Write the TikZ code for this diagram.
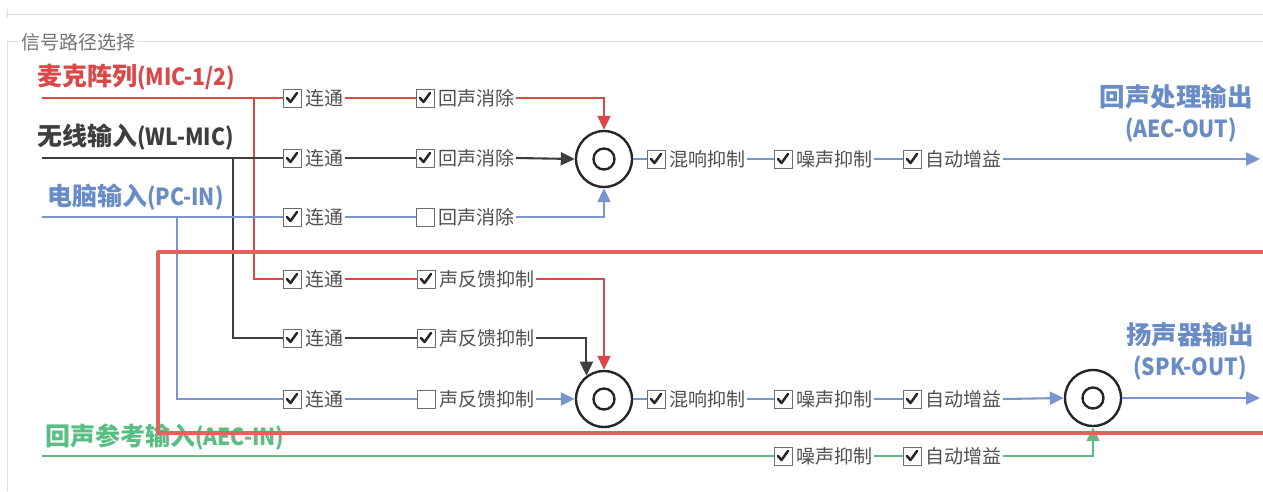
\documentclass[tikz,border=0pt]{standalone}
\usepackage{fontspec}
\newfontfamily\cjk{Noto Sans CJK SC}
\newfontfamily\cjkn{Noto Sans CJK SC}[FakeStretch=0.9]
\usetikzlibrary{arrows.meta,calc}
\definecolor{cred}{RGB}{218,72,72}
\definecolor{rectred}{RGB}{226,98,92}
\definecolor{cdark}{RGB}{62,62,62}
\definecolor{cblue}{RGB}{120,150,205}
\definecolor{tblue}{RGB}{105,140,198}
\definecolor{cgreen}{RGB}{88,190,130}
\definecolor{labgray}{RGB}{80,80,80}
\definecolor{framegray}{RGB}{222,222,222}
\newcommand\ckbox[5]{%
  \node[cbox] (#1) at (#2,#3) {};
  \node[lab] (#1t) at ([xshift=2]#1.east) {#4};
  \ifnum#5=1 \draw[tickmark] ([shift={(-5,0)}]#1.center) -- ([shift={(-1.5,4)}]#1.center) -- ([shift={(5,-5)}]#1.center);\fi}
\newcommand\latn[1]{{\cjkn\fontsize{23.5}{23.5}\selectfont #1}}
\begin{document}
\begin{tikzpicture}[x=1pt,y=-1pt,
  cbox/.style={draw=gray!85!black,line width=0.9pt,minimum size=18pt,inner sep=0pt,fill=white},
  lab/.style={font=\cjk\fontsize{19}{19}\selectfont,text=labgray,anchor=west,inner sep=1.5pt},
  tickmark/.style={line width=2.5pt,draw=black!85,line cap=round,line join=round},
  sig/.style={line width=2.1pt},
  arr/.style={sig,-{Triangle[length=14pt,width=13pt]}},
  mixer/.style={circle,draw=black!85,line width=2.4pt,minimum size=56pt,inner sep=0pt,fill=white},
  mixin/.style={circle,draw=black!85,line width=2.4pt,minimum size=21pt,inner sep=0pt},
  title/.style={font=\cjk\bfseries\fontsize{25}{25}\selectfont,anchor=west,inner sep=0pt},
  otitle/.style={font=\cjk\bfseries\fontsize{25.5}{25.5}\selectfont,text=tblue,inner sep=0pt},
  frame/.style={draw=framegray,line width=1pt}]
\useasboundingbox (0,0) rectangle (1263,491);
% frame
\coordinate (ft0) at (5,14); \coordinate (ft1) at (1263,14);
\draw[frame] (ft0) -- (ft1);
\coordinate (tk0) at (7,9); \coordinate (tk1) at (7,18);
\draw[frame] (tk0) -- (tk1);
\node[font=\cjk\fontsize{19}{19}\selectfont,text=black!55,anchor=west,inner sep=2pt] (gtitle) at (19,42) {信号路径选择};
\coordinate (fb) at (7,491); \coordinate (fr) at (1263,41);
\draw[frame] (gtitle.west|-fr) -| (fb);
\draw[frame] (gtitle.east|-fr) -- (fr);
% titles
\node[title,text=cred] (mic) at (37,77) {麦克阵列\latn{(MIC-1/2)}};
\node[title,text=cdark] (wl) at (37,137) {无线输入\latn{(WL-MIC)}};
\node[title,text=tblue] (pc) at (47,197) {电脑输入\latn{(PC-IN)}};
\node[title,text=cgreen] (aecin) at (45,437) {回声参考输入\latn{(AEC-IN)}};
\node[otitle] (aecout1) at (1176,97) {回声处理输出};
\node[otitle] (aecout2) at (1181,130) {\latn{(AEC-OUT)}};
\node[otitle] (spk1) at (1190,335) {扬声器输出};
\node[otitle] (spk2) at (1190,368) {\latn{(SPK-OUT)}};
% mixers
\node[mixer] (k1) at (604,159) {};
\node[mixin] (k1i) at (k1) {};
\node[mixer] (k2) at (604,399) {};
\node[mixin] (k2i) at (k2) {};
\node[mixer] (k3) at (1093,398) {};
\node[mixin] (k3i) at (k3) {};
% checkboxes
\ckbox{a1}{292}{98}{连通\hspace{5pt}}{1}
\ckbox{a2}{292}{158}{连通\hspace{5pt}}{1}
\ckbox{a3}{292}{217}{连通\hspace{5pt}}{1}
\ckbox{a4}{292}{279}{连通\hspace{5pt}}{1}
\ckbox{a5}{292}{338}{连通\hspace{5pt}}{1}
\ckbox{a6}{292}{399}{连通\hspace{5pt}}{1}
\ckbox{b1}{425}{98}{回声消除}{1}
\ckbox{b2}{425}{158}{回声消除}{1}
\ckbox{b3}{425}{217}{回声消除}{0}
\ckbox{b4}{426}{279}{声反馈抑制}{1}
\ckbox{b5}{426}{338}{声反馈抑制}{1}
\ckbox{b6}{426}{399}{声反馈抑制}{0}
\ckbox{c1}{656}{159}{混响抑制}{1}
\ckbox{d1}{783}{159}{噪声抑制}{1}
\ckbox{e1}{912}{159}{自动增益}{1}
\ckbox{c2}{656}{399}{混响抑制}{1}
\ckbox{d2}{783}{399}{噪声抑制}{1}
\ckbox{e2}{912}{399}{自动增益}{1}
\ckbox{d3}{783}{456}{噪声抑制}{1}
\ckbox{e3}{912}{456}{自动增益}{1}
% input coordinates
\coordinate (micin) at (42,98);
\coordinate (wlin) at (42,158);
\coordinate (pcin) at (42,217);
\coordinate (gin) at (42,456);
\coordinate (micb) at (254,98);
\coordinate (wlb) at (233,158);
\coordinate (pcb) at (177,217);
\coordinate (outA) at (1260,159);
\coordinate (outS) at (1260,398);
% red path
\begin{scope}[draw=cred]
\draw[sig] (micin) -- (a1.west);
\draw[sig] (micb) |- (a4.west);
\draw[sig] (a1t.east) -- (b1.west);
\draw[arr] (b1t.east) -| (k1.north);
\draw[sig] (a4t.east) -- (b4.west);
\draw[arr] (b4t.east) -| (k2.north);
\end{scope}
% dark path
\begin{scope}[draw=cdark]
\draw[sig] (wlin) -- (a2.west);
\draw[sig] (wlb) |- (a5.west);
\draw[sig] (a2t.east) -- (b2.west);
\draw[arr] (b2t.east) -- (k1.west);
\draw[sig] (a5t.east) -- (b5.west);
\draw[arr] (b5t.east) -| (k2.127);
\end{scope}
% blue path
\begin{scope}[draw=cblue]
\draw[sig] (pcin) -- (a3.west);
\draw[sig] (pcb) |- (a6.west);
\draw[sig] (a3t.east) -- (b3.west);
\draw[arr] (b3t.east) -| (k1.south);
\draw[sig] (a6t.east) -- (b6.west);
\draw[arr] (b6t.east) -- (k2.west);
\draw[sig] (k1.east) -- (c1.west);
\draw[sig] (c1t.east) -- (d1.west);
\draw[sig] (d1t.east) -- (e1.west);
\draw[arr] (e1t.east) -- (outA);
\draw[sig] (k2.east) -- (c2.west);
\draw[sig] (c2t.east) -- (d2.west);
\draw[sig] (d2t.east) -- (e2.west);
\draw[arr] (e2t.east) -- (k3.west);
\draw[arr] (k3.east) -- (outS);
\end{scope}
% green path
\begin{scope}[draw=cgreen]
\draw[sig] (gin) -- (d3.west);
\draw[sig] (d3t.east) -- (e3.west);
\draw[arr] (e3t.east) -| (k3.south);
\end{scope}
% red loop
\coordinate (rl1) at (1263,252);
\coordinate (rl2) at (158,252);
\coordinate (rl3) at (158,433);
\coordinate (rl4) at (1263,433);
\draw[draw=rectred,line width=3.8pt,line join=round] (rl1) -- (rl2) -- (rl3) -- (rl4);
\end{tikzpicture}
\end{document}
